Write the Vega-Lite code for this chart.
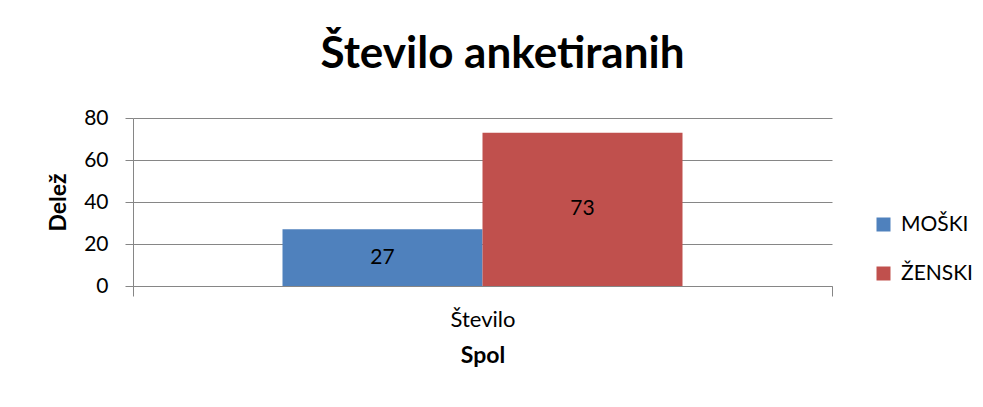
{
  "$schema": "https://vega.github.io/schema/vega-lite/v6.json",
  "width": 699,
  "height": 168,
  "autosize": {"type": "none"},
  "padding": {"left": 133, "top": 118, "right": 151, "bottom": 121},
  "background": "white",
  "config": {
    "font": "Lato",
    "view": {"stroke": null},
    "axis": {"labelColor": "#000000", "titleColor": "#000000"}
  },
  "title": {
    "text": "Število anketiranih",
    "fontSize": 44,
    "fontWeight": "bold",
    "color": "#000000",
    "anchor": "middle",
    "frame": "group",
    "dx": 20,
    "offset": 30
  },
  "data": {
    "values": [
      {"kategorija": "Število", "spol": "MOŠKI", "vrednost": 27},
      {"kategorija": "Število", "spol": "ŽENSKI", "vrednost": 73}
    ]
  },
  "encoding": {
    "x": {
      "field": "kategorija",
      "type": "nominal",
      "scale": {"paddingInner": 0, "paddingOuter": 0},
      "axis": {
        "title": "Spol",
        "titleFontSize": 23,
        "titleFontWeight": "bold",
        "titlePadding": 14,
        "labelFontSize": 22,
        "labelAngle": 0,
        "labelPadding": 13,
        "labelFontWeight": "normal",
        "tickBand": "extent",
        "tickSize": 10,
        "tickColor": "#868686",
        "domainColor": "#868686"
      }
    },
    "xOffset": {
      "field": "spol",
      "type": "nominal",
      "scale": {"paddingInner": 0, "paddingOuter": 0.7475}
    }
  },
  "layer": [
    {
      "mark": {"type": "bar"},
      "encoding": {
        "y": {
          "field": "vrednost",
          "type": "quantitative",
          "scale": {"domain": [0, 80]},
          "axis": {
            "title": "Delež",
            "titleFontSize": 23,
            "titleFontWeight": "bold",
            "titlePadding": 13,
            "values": [0, 20, 40, 60, 80],
            "labelFontSize": 21,
            "labelPadding": 17,
            "tickSize": 8,
            "tickColor": "#868686",
            "domainColor": "#868686",
            "gridColor": "#868686",
            "gridOpacity": 1
          }
        },
        "color": {
          "field": "spol",
          "type": "nominal",
          "scale": {"domain": ["MOŠKI", "ŽENSKI"], "range": ["#4F81BD", "#C0504D"]},
          "legend": {
            "title": null,
            "orient": "none",
            "legendX": 740,
            "legendY": 96,
            "padding": 0,
            "symbolType": "square",
            "symbolSize": 196,
            "symbolStrokeWidth": 0,
            "labelFontSize": 21,
            "labelColor": "#000000",
            "labelOffset": 7,
            "rowPadding": 27
          }
        }
      }
    },
    {
      "mark": {"type": "text", "fontSize": 21, "color": "#000000", "baseline": "middle"},
      "encoding": {
        "y": {
          "field": "vrednost",
          "type": "quantitative",
          "scale": {"domain": [0, 160]},
          "axis": null
        },
        "text": {"field": "vrednost", "type": "quantitative"}
      }
    }
  ],
  "resolve": {"scale": {"y": "independent"}}
}
